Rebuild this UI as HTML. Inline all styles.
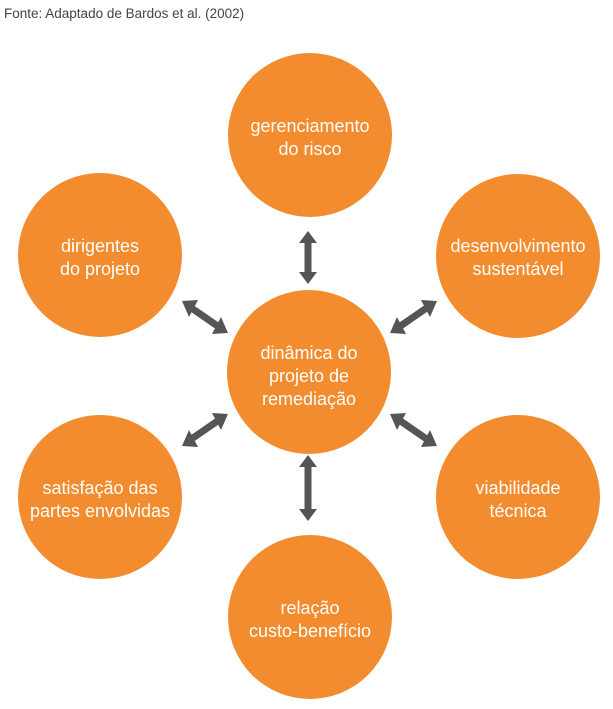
<!DOCTYPE html>
<html><head><meta charset="utf-8"><style>
html,body{margin:0;padding:0;background:#fff;}
body{width:613px;height:709px;overflow:hidden;position:relative;font-family:"Liberation Sans","DejaVu Sans",sans-serif;}
.t{position:absolute;left:4px;top:6px;font-size:13.5px;color:#444;}
</style></head><body>
<div class="t">Fonte: Adaptado de Bardos et al. (2002)</div>
<svg width="613" height="709" style="position:absolute;left:0;top:0">
<g fill="#F28C2E">
<circle cx="310" cy="135" r="82"/>
<circle cx="100" cy="255" r="82"/>
<circle cx="518" cy="256" r="82"/>
<circle cx="309" cy="372" r="82"/>
<circle cx="100" cy="497" r="82"/>
<circle cx="518" cy="497" r="82"/>
<circle cx="310" cy="617" r="82"/>
</g>
<g stroke="#555" stroke-width="7" fill="#555">
<line x1="308" y1="240" x2="308" y2="275"/>
<polygon stroke="none" points="308,231 317,243 299,243"/>
<polygon stroke="none" points="308,284 317,272 299,272"/>
<line x1="308" y1="464" x2="308" y2="512"/>
<polygon stroke="none" points="308,455 317,467 299,467"/>
<polygon stroke="none" points="308,521 317,509 299,509"/>
</g>
<g stroke="#555" stroke-width="7">
<line x1="190" y1="307" x2="219" y2="327"/>
<line x1="428" y1="307" x2="399" y2="327"/>
<line x1="190" y1="440" x2="219" y2="420"/>
<line x1="399" y1="420" x2="428" y2="440"/>
</g>
<g fill="#555">
<polygon points="182,301 198,300 189,317"/>
<polygon points="228,333 212,334 221,317"/>
<polygon points="437,301 421,300 430,317"/>
<polygon points="390,333 406,334 397,317"/>
<polygon points="182,446 198,447 189,430"/>
<polygon points="228,414 212,413 221,430"/>
<polygon points="390,414 406,413 397,430"/>
<polygon points="437,446 421,447 430,430"/>
</g>
<g fill="#fff" font-size="18" text-anchor="middle" font-family="Liberation Sans, DejaVu Sans, sans-serif">
<text x="310" y="132">gerenciamento</text><text x="310" y="155">do risco</text>
<text x="100" y="252">dirigentes</text><text x="100" y="275">do projeto</text>
<text x="518" y="252">desenvolvimento</text><text x="518" y="275">sustentável</text>
<text x="309" y="359">dinâmica do</text><text x="309" y="382">projeto de</text><text x="309" y="405">remediação</text>
<text x="100" y="494">satisfação das</text><text x="100" y="517">partes envolvidas</text>
<text x="518" y="494">viabilidade</text><text x="518" y="517">técnica</text>
<text x="310" y="614">relação</text><text x="310" y="637">custo-benefício</text>
</g>
</svg>
</body></html>
